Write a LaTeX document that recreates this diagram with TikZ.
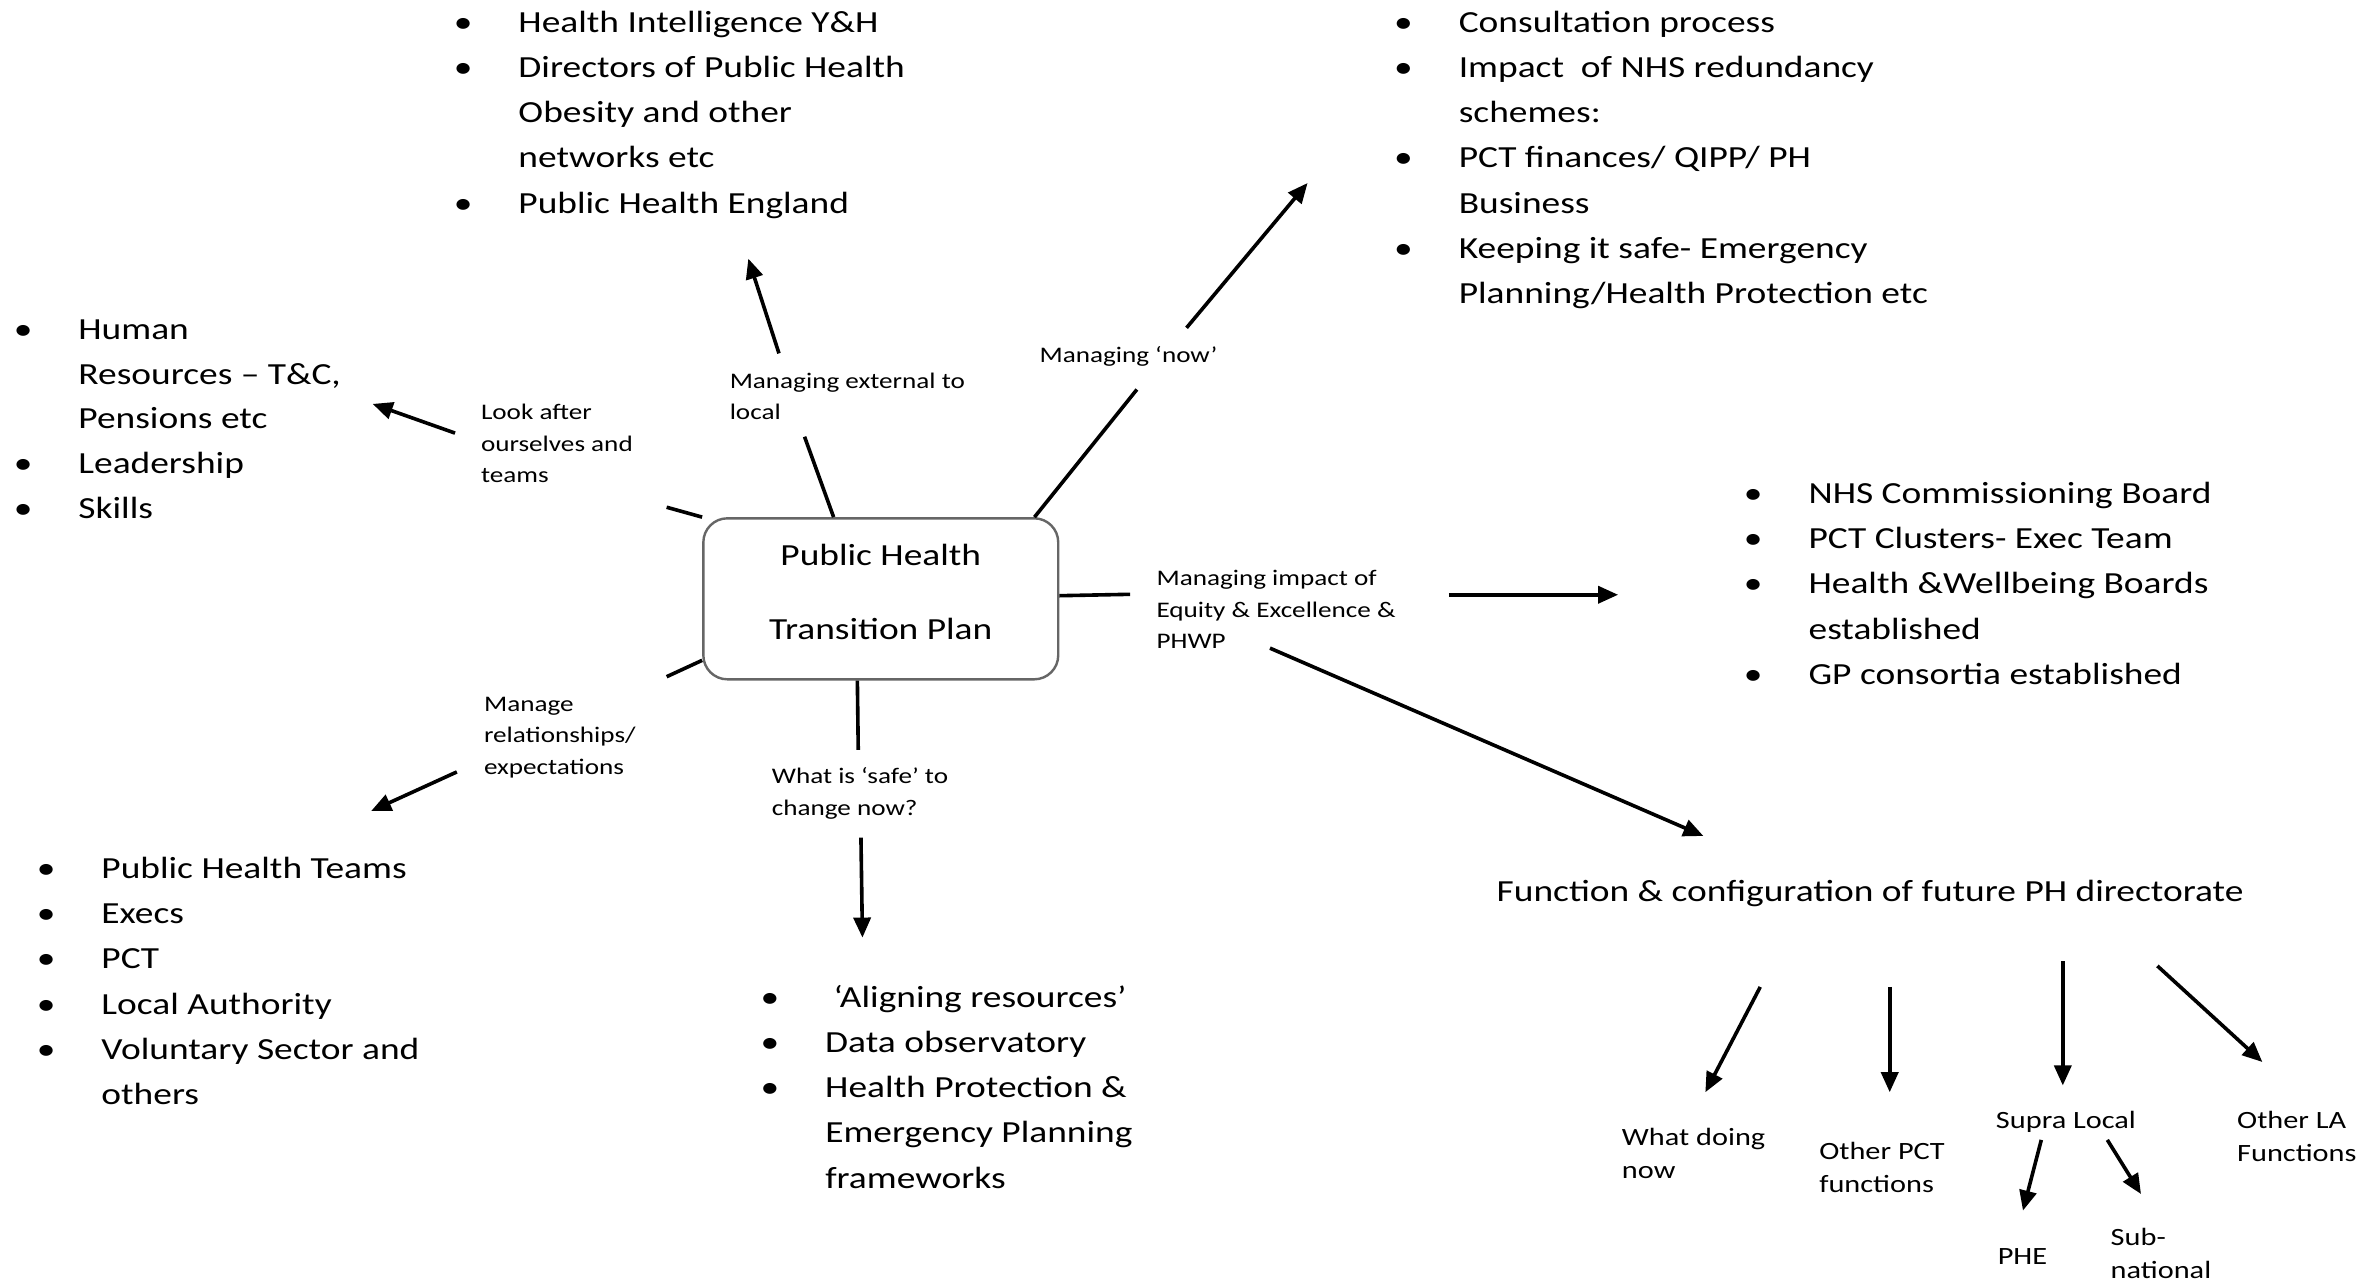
\documentclass[tikz,border=0pt]{standalone}
\usepackage{fontspec}
\setmainfont{Carlito}[FakeStretch=1.22]
\usetikzlibrary{arrows.meta}
\newlength{\dpx}\setlength{\dpx}{0.75pt}
\newcommand{\bitem}[1]{\hbox{\hbox to 37\dpx{\kern-6\dpx\textbullet\hfil}#1}}
\newcommand{\citem}[1]{\hbox{\hbox to 37\dpx{\hfil}#1}}
\newcommand{\txl}[1]{\hbox{#1}}
\newcommand{\stk}[2]{\vtop{\baselineskip=#1\lineskiplimit=-\maxdimen\lineskip=0pt\relax #2}}
\tikzset{
  big/.style={font=\fontsize{15.3}{22.55}\selectfont, inner sep=0pt, anchor=base west},
  lab/.style={font=\fontsize{11.1}{15.8}\selectfont, inner sep=0pt, anchor=base west},
  sublab/.style={font=\fontsize{12.4}{16.5}\selectfont, inner sep=0pt, anchor=base west},
  hubbox/.style={draw=black!60, line width=1.2pt, rounded corners=12pt,
    minimum width=177pt, minimum height=80.3pt, inner sep=0pt,
    font=\fontsize{15.3}{22.55}\selectfont, text height=0pt, text depth=32.8pt},
  conn/.style={line width=1.8pt, black},
  arr/.style={conn, -{Triangle[length=10pt,width=8.5pt]}},
}
\begin{document}
\begin{tikzpicture}[x=0.75pt,y=-0.75pt]
\fill[white] (0,0) rectangle (1568,852);
\useasboundingbox (0,0) rectangle (1568,852);

% central box
\node[hubbox] (hub) at (585.7,398.2) {\stk{36.5pt}{\hbox to 160pt{\hfil Public Health\hfil}\hbox to 160pt{\hfil Transition Plan\hfil}}};

% bullet lists
\node[big] (tm) at (307.5,21.4) {\stk{22.55pt}{%
  \bitem{Health Intelligence Y\&H}%
  \bitem{Directors of Public Health}%
  \citem{Obesity and other}%
  \citem{networks etc}%
  \bitem{Public Health England}}};
\node[big] (tr) at (932.8,21.4) {\stk{22.55pt}{%
  \bitem{Consultation process}%
  \bitem{Impact\ \ of NHS redundancy}%
  \citem{schemes:}%
  \bitem{PCT finances/ QIPP/ PH}%
  \citem{Business}%
  \bitem{Keeping it safe- Emergency}%
  \citem{Planning/Health Protection etc}}};
\node[big] (lf) at (14.9,225.6) {\stk{22.35pt}{%
  \bitem{Human}%
  \citem{Resources -- T\&C,}%
  \citem{Pensions etc}%
  \bitem{Leadership}%
  \bitem{Skills}}};
\node[big] (rm) at (1165.4,334.8) {\stk{22.55pt}{%
  \bitem{NHS Commissioning Board}%
  \bitem{PCT Clusters- Exec Team}%
  \bitem{Health \&Wellbeing Boards}%
  \citem{established}%
  \bitem{GP consortia established}}};
\node[big] (bl) at (30.2,584.2) {\stk{22.55pt}{%
  \bitem{Public Health Teams}%
  \bitem{Execs}%
  \bitem{PCT}%
  \bitem{Local Authority}%
  \bitem{Voluntary Sector and}%
  \citem{others}}};
\node[big] (bm) at (511.5,669.8) {\stk{22.55pt}{%
  \bitem{\ ‘Aligning resources’}%
  \bitem{Data observatory}%
  \bitem{Health Protection \&}%
  \citem{Emergency Planning}%
  \citem{frameworks}}};
\node[big] (fh) at (995,599.6) {Function \& configuration of future PH directorate};

% labels round the hub
\node[lab] (l1) at (319.6,279) {\stk{15.8pt}{\txl{Look after}\txl{ourselves and}\txl{teams}}};
\node[lab] (l2) at (485,258.2) {\stk{15.8pt}{\txl{Managing external to}\txl{local}}};
\node[lab] (l3) at (691,241) {Managing ‘now’};
\node[lab] (l4) at (768.8,389.4) {\stk{15.8pt}{\txl{Managing impact of}\txl{Equity \& Excellence \&}\txl{PHWP}}};
\node[lab] (l5) at (321.6,472.9) {\stk{15.8pt}{\txl{Manage}\txl{relationships/}\txl{expectations}}};
\node[lab] (l6) at (513,521.3) {\stk{15.8pt}{\txl{What is ‘safe’ to}\txl{change now?}}};

% lower labels
\node[sublab] (s1) at (1078.3,761.8) {\stk{16.5pt}{\txl{What doing}\txl{now}}};
\node[sublab] (s2) at (1209.5,771.3) {\stk{16.5pt}{\txl{Other PCT}\txl{functions}}};
\node[sublab] (s3) at (1327,750.6) {Supra Local};
\node[sublab] (s4) at (1487.4,750.6) {\stk{16.5pt}{\txl{Other LA}\txl{Functions}}};
\node[sublab] (s5) at (1328.2,840.6) {PHE};
\node[sublab] (s6) at (1403.3,828.4) {\stk{16.5pt}{\txl{Sub-}\txl{national}}};

% connector end points
\coordinate (c1) at (443.3,337.3);
\coordinate (c1a) at (302.6,288);   \coordinate (c1b) at (247.8,268.6);
\coordinate (c2) at (535,290.4);
\coordinate (c2a) at (518,235);     \coordinate (c2b) at (497.6,172);
\coordinate (c3) at (756,259);
\coordinate (c3a) at (789,218);     \coordinate (c3b) at (869.5,121.7);
\coordinate (c4) at (751.5,395.2);
\coordinate (c4a) at (963.5,395.5); \coordinate (c4b) at (1076,395.5);
\coordinate (c4c) at (844.5,431);   \coordinate (c4d) at (1132.7,555.9);
\coordinate (c5) at (443.3,450);
\coordinate (c5a) at (303.8,513.3); \coordinate (c5b) at (246.8,539.3);
\coordinate (c6) at (570.7,498.6);
\coordinate (c6a) at (572.5,557);   \coordinate (c6b) at (573.5,623.5);
\coordinate (d1a) at (1170.5,656.3); \coordinate (d1b) at (1134,726.3);
\coordinate (d2a) at (1256.6,656.3); \coordinate (d2b) at (1256.6,726.3);
\coordinate (d3a) at (1371.7,639.2); \coordinate (d3b) at (1371.7,721.8);
\coordinate (d4a) at (1434.6,642.3); \coordinate (d4b) at (1504.4,706.2);
\coordinate (d5a) at (1357.4,758);   \coordinate (d5b) at (1345.2,805);
\coordinate (d6a) at (1401.3,758);   \coordinate (d6b) at (1423.7,794);

% stubs from the hub
\draw[conn] (hub.north west) -- (c1);
\draw[conn] (hub.120.9) -- (c2);
\draw[conn] (hub.28.6) -- (c3);
\draw[conn] (hub.1.5) -- (c4);
\draw[conn] (hub.199.7) -- (c5);
\draw[conn] (hub.254.3) -- (c6);

% arrows
\draw[arr] (c1a) -- (c1b);
\draw[arr] (c2a) -- (c2b);
\draw[arr] (c3a) -- (c3b);
\draw[arr] (c4a) -- (c4b);
\draw[arr] (c4c) -- (c4d);
\draw[arr] (c5a) -- (c5b);
\draw[arr] (c6a) -- (c6b);
\draw[arr] (d1a) -- (d1b);
\draw[arr] (d2a) -- (d2b);
\draw[arr] (d3a) -- (d3b);
\draw[arr] (d4a) -- (d4b);
\draw[arr] (d5a) -- (d5b);
\draw[arr] (d6a) -- (d6b);
\end{tikzpicture}
\end{document}
